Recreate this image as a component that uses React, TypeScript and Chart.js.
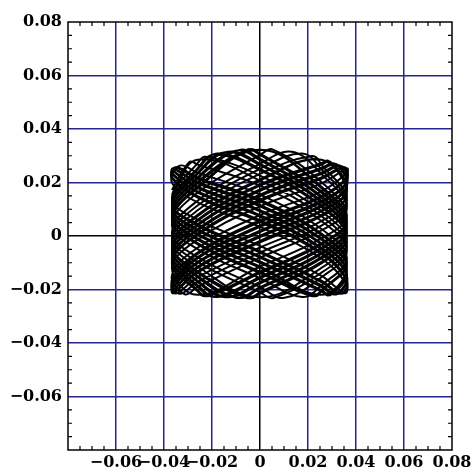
import React, { useEffect, useRef } from 'react';
import { Chart, registerables } from 'chart.js';

Chart.register(...registerables);

// Axis ticks (major every 0.02, minor every 0.005)
const xTickValues = [-0.08, -0.06, -0.04, -0.02, 0, 0.02, 0.04, 0.06, 0.08];
const xTickLabels = ['', '−0.06', '−0.04', '−0.02', '0', '0.02', '0.04', '0.06', '0.08'];
const yTickValues = [-0.08, -0.06, -0.04, -0.02, 0, 0.02, 0.04, 0.06, 0.08];
const yTickLabels = ['', '−0.06', '−0.04', '−0.02', '0', '0.02', '0.04', '0.06', '0.08'];
const minorTickValues = [
  -0.075, -0.07, -0.065, -0.055, -0.05, -0.045, -0.035, -0.03, -0.025, -0.015, -0.01, -0.005,
  0.005, 0.01, 0.015, 0.025, 0.03, 0.035, 0.045, 0.05, 0.055, 0.065, 0.07, 0.075,
];

// Orbit samples. The x coordinate of sample i is orbitXStations[i % 8]
// (left wall, left shoulder, centre, right shoulder, right wall, ...).
const orbitXStations = [-0.0367, -0.026, 0, 0.0256, 0.0362, 0.0256, 0, -0.026];

// First stretch of the orbit
const orbitAY = [
  -0.0183, -0.0084, 0.0034, 0.0126, 0.0200, 0.0237, 0.0155, 0.0026,
  -0.0083, -0.0184, -0.0158, -0.0049, 0.0040, 0.0162, 0.0303, 0.0202,
  0.0077, -0.0009, -0.0114, -0.0220, -0.0119, -0.0014, 0.0111, 0.0197,
  0.0236, 0.0167, 0.0078, -0.0044, -0.0147, -0.0190, -0.0081, 0.0021,
  0.0104, 0.0232, 0.0270, 0.0132, 0.0013, -0.0079, -0.0191, -0.0154,
  -0.0056, 0.0056, 0.0188, 0.0267, 0.0172, 0.0096, 0.0001, -0.0114,
  -0.0211, -0.0119, -0.0004, 0.0092, 0.0168, 0.0272, 0.0193, 0.0061,
  -0.0051, -0.0149, -0.0196, -0.0084, 0.0008, 0.0126, 0.0265, 0.0237,
  0.0109, 0.0026, -0.0076, -0.0184, -0.0151, -0.0049, 0.0073, 0.0162,
  0.0232, 0.0202, 0.0116, -0.0009, -0.0115, -0.0220, -0.0119, -0.0014,
  0.0072, 0.0197, 0.0308, 0.0167, 0.0045, -0.0044, -0.0153, -0.0190,
  -0.0088, 0.0021, 0.0149, 0.0232, 0.0204, 0.0132, 0.0040, -0.0079,
  -0.0179, -0.0154, -0.0043, 0.0056, 0.0136, 0.0267, 0.0232, 0.0096,
  -0.0019, -0.0114, -0.0229, -0.0119, -0.0024, 0.0092, 0.0226, 0.0272,
  0.0140, 0.0061, -0.0037, -0.0149, -0.0183, -0.0084, 0.0034, 0.0126,
  0.0200, 0.0237, 0.0155, 0.0026, -0.0083, -0.0184, -0.0158, -0.0049,
  0.0040, 0.0162, 0.0303, 0.0202, 0.0077, -0.0009, -0.0114, -0.0220,
  -0.0119, -0.0014, 0.0111, 0.0197, 0.0236, 0.0167, 0.0078, -0.0044,
  -0.0147, -0.0190, -0.0081, 0.0021, 0.0104, 0.0232, 0.0270, 0.0132,
  0.0013, -0.0079, -0.0191, -0.0154, -0.0056, 0.0056, 0.0188, 0.0267,
  0.0172,
];
// Top and bottom turning points of the first stretch, each placed after sample turnAAfter[n]
const turnAAfter = [4, 9, 14, 23, 28, 33, 38, 43, 52, 57, 62, 67, 72, 81, 86, 91, 96, 101, 110, 115, 120, 125, 130, 139, 144, 149, 154, 159];
const turnAX = [
  0.0334, -0.0176, -0.0054, -0.0363, 0.0313, -0.0133, -0.0101, 0.0294, 0.0286, -0.0088,
  -0.0146, 0.0320, -0.0361, -0.0041, -0.0188, 0.0340, -0.0351, 0.0217, -0.0227, 0.0354,
  -0.0334, 0.0176, 0.0054, 0.0363, -0.0313, 0.0133, 0.0101, -0.0294,
];
const turnAY = [
  0.0263, -0.0228, 0.0323, 0.0252, -0.0218, 0.0315, -0.0231, 0.0277, 0.0280, -0.0231,
  0.0313, -0.0218, 0.0252, 0.0324, -0.0227, 0.0261, -0.0215, 0.0299, 0.0296, -0.0214,
  0.0263, -0.0228, 0.0323, 0.0252, -0.0218, 0.0315, -0.0231, 0.0277,
];

// Second stretch of the orbit
const orbitBY = [
  -0.0168, -0.0067, 0.0053, 0.0144, 0.0216, 0.0219, 0.0136, 0.0009,
  -0.0099, -0.0202, -0.0139, -0.0031, 0.0056, 0.0179, 0.0322, 0.0184,
  0.0061, -0.0027, -0.0133, -0.0207, -0.0103, 0.0004, 0.0130, 0.0214,
  0.0220, 0.0149, 0.0059, -0.0062, -0.0163, -0.0172, -0.0062, 0.0039,
  0.0120, 0.0249, 0.0251, 0.0114, -0.0003, -0.0097, -0.0210, -0.0137,
  -0.0040, 0.0074, 0.0207, 0.0285, 0.0156, 0.0079, -0.0018, -0.0132,
  -0.0199, -0.0102, 0.0015, 0.0109, 0.0184, 0.0254, 0.0174, 0.0044,
  -0.0067, -0.0167, -0.0177, -0.0067, 0.0024, 0.0144, 0.0284, 0.0219,
  0.0093, 0.0009, -0.0095, -0.0202, -0.0136, -0.0031, 0.0092, 0.0179,
  0.0248, 0.0184, 0.0097, -0.0027, -0.0131, -0.0207, -0.0100, 0.0004,
  0.0088, 0.0214, 0.0289, 0.0149, 0.0029, -0.0062, -0.0172, -0.0172,
  -0.0072, 0.0039, 0.0169, 0.0249, 0.0188, 0.0114, 0.0020, -0.0097,
  -0.0195, -0.0137, -0.0024, 0.0074, 0.0152, 0.0285, 0.0212, 0.0079,
  -0.0035, -0.0132, -0.0215, -0.0102, -0.0008, 0.0109, 0.0246, 0.0254,
  0.0124, 0.0044, -0.0057, -0.0167, -0.0168, -0.0067, 0.0053, 0.0144,
  0.0216, 0.0219, 0.0136, 0.0009, -0.0099, -0.0202, -0.0139, -0.0031,
  0.0056, 0.0179, 0.0322, 0.0184, 0.0061, -0.0027, -0.0133, -0.0207,
  -0.0103, 0.0004, 0.0130, 0.0214, 0.0220, 0.0149, 0.0059, -0.0062,
  -0.0163, -0.0172, -0.0062, 0.0039, 0.0120, 0.0249, 0.0251, 0.0114,
  -0.0003, -0.0097, -0.0210, -0.0137, -0.0040, 0.0074, 0.0207, 0.0285,
  0.0156,
];
const turnBAfter = [4, 9, 18, 23, 28, 33, 38, 47, 52, 57, 62, 67, 76, 81, 86, 91, 96, 105, 110, 115, 120, 125, 134, 139, 144, 149, 154];
const turnBX = [
  0.0351, -0.0217, 0.0228, -0.0354, 0.0335, -0.0176, -0.0055, -0.0363, 0.0313, -0.0134,
  -0.0101, 0.0294, 0.0285, -0.0088, -0.0146, 0.0320, -0.0361, -0.0041, -0.0188, 0.0340,
  -0.0351, 0.0217, -0.0228, 0.0354, -0.0335, 0.0176, 0.0055,
];
const turnBY = [
  0.0257, -0.0225, -0.0225, 0.0255, -0.0216, 0.0308, -0.0232, -0.0213, 0.0270, -0.0229,
  0.0319, -0.0220, -0.0221, 0.0321, -0.0229, 0.0268, -0.0214, -0.0232, 0.0305, -0.0216,
  0.0257, -0.0225, -0.0225, 0.0255, -0.0216, 0.0308, -0.0232,
];

const GRID_BLUE = '#25258f';

function buildPath(ys: number[], after: number[], tx: number[], ty: number[]) {
  const pts: { x: number; y: number }[] = [];
  ys.forEach((y, i) => {
    pts.push({ x: orbitXStations[i % orbitXStations.length], y });
    const n = after.indexOf(i);
    if (n >= 0) pts.push({ x: tx[n], y: ty[n] });
  });
  return pts;
}

const framePlugin = {
  id: 'frameAndMinorTicks',
  afterDraw(chart: any) {
    const { ctx, chartArea: a, scales } = chart;
    ctx.save();
    ctx.strokeStyle = '#000';
    ctx.lineWidth = 1.5;
    ctx.strokeRect(a.left, a.top, a.right - a.left, a.bottom - a.top);
    ctx.lineWidth = 1.2;
    ctx.beginPath();
    for (const v of minorTickValues) {
      const px = scales.x.getPixelForValue(v);
      ctx.moveTo(px, a.bottom);
      ctx.lineTo(px, a.bottom - 4);
      ctx.moveTo(px, a.top);
      ctx.lineTo(px, a.top + 4);
      const py = scales.y.getPixelForValue(v);
      ctx.moveTo(a.left, py);
      ctx.lineTo(a.left + 4, py);
      ctx.moveTo(a.right, py);
      ctx.lineTo(a.right - 4, py);
    }
    ctx.stroke();
    ctx.restore();
  },
};

function gridColor(c: any) {
  const v = c.tick ? c.tick.value : null;
  if (v === 0) return '#000';
  if (v !== null && Math.abs(v) > 0.079) return 'rgba(0,0,0,0)';
  return GRID_BLUE;
}

export default function App() {
  const canvasRef = useRef<HTMLCanvasElement | null>(null);

  useEffect(() => {
    const lineStyle = {
      showLine: true,
      borderColor: '#000',
      borderWidth: 2,
      pointRadius: 0,
      tension: 0.4,
      fill: false,
    };
    const tickFont = { family: 'DejaVu Serif', weight: 'bold' as const, size: 16 };

    const chart = new Chart(canvasRef.current as HTMLCanvasElement, {
      type: 'scatter',
      data: {
        datasets: [
          { ...lineStyle, data: buildPath(orbitAY, turnAAfter, turnAX, turnAY) },
          { ...lineStyle, data: buildPath(orbitBY, turnBAfter, turnBX, turnBY) },
        ],
      },
      options: {
        responsive: false,
        animation: false,
        devicePixelRatio: 1,
        layout: { padding: { top: 22, right: 23, left: 0, bottom: 0 } },
        plugins: { legend: { display: false }, tooltip: { enabled: false } },
        scales: {
          x: {
            type: 'linear',
            min: -0.08,
            max: 0.08,
            afterBuildTicks: (s: any) => {
              s.ticks = xTickValues.map((v) => ({ value: v }));
            },
            afterFit: (s: any) => {
              s.height = 26;
            },
            grid: { color: gridColor, lineWidth: 1.5, drawTicks: false },
            border: { display: false },
            ticks: {
              autoSkip: false,
              maxRotation: 0,
              minRotation: 0,
              padding: 3,
              color: '#000',
              font: tickFont,
              callback: (_v: any, i: number) => xTickLabels[i],
            },
          },
          y: {
            type: 'linear',
            min: -0.08,
            max: 0.08,
            afterBuildTicks: (s: any) => {
              s.ticks = yTickValues.map((v) => ({ value: v }));
            },
            afterFit: (s: any) => {
              s.width = 68;
            },
            grid: { color: gridColor, lineWidth: 1.5, drawTicks: false },
            border: { display: false },
            ticks: {
              autoSkip: false,
              padding: 6,
              color: '#000',
              font: tickFont,
              callback: (_v: any, i: number) => yTickLabels[i],
            },
          },
        },
      },
      plugins: [framePlugin],
    });

    return () => chart.destroy();
  }, []);

  return (
    <div style={{ position: 'absolute', left: 0, top: 0, width: 475, height: 476, background: '#fff' }}>
      <canvas ref={canvasRef} width={475} height={476} style={{ display: 'block' }} />
    </div>
  );
}
